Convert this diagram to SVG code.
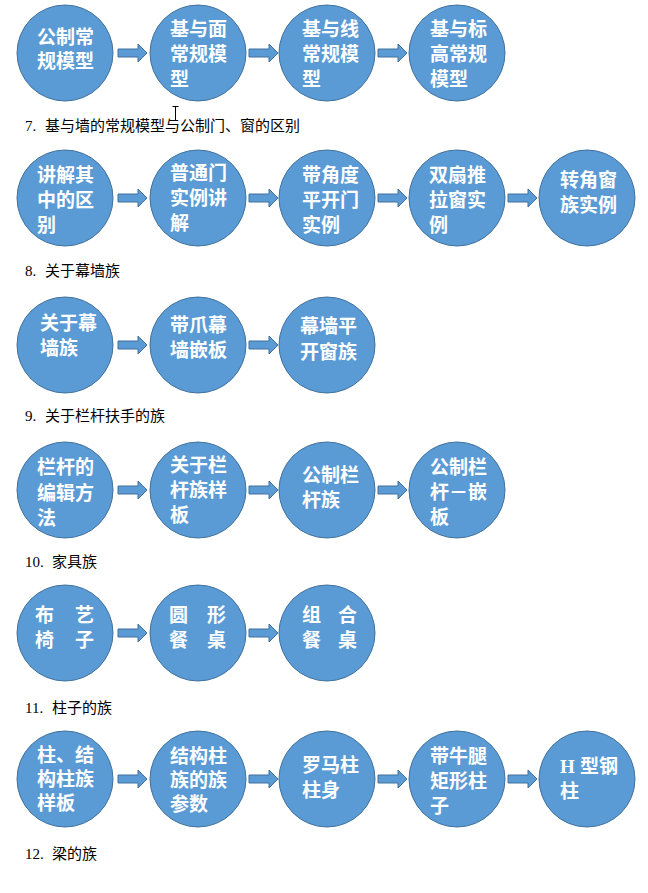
<svg xmlns="http://www.w3.org/2000/svg" width="648" height="893" viewBox="0 0 648 893">
<style>
.n{fill:#5b9bd5;stroke:#41719c;stroke-width:1}
.a{fill:#5b9bd5;stroke:#41719c;stroke-width:1}
.t{fill:#fff;font-family:"Noto Sans CJK SC","Liberation Sans",sans-serif;font-size:19px;font-weight:bold}
.l{fill:#000;font-family:"Liberation Serif","Noto Sans CJK SC",serif;font-size:15px}
.c{font-family:"Noto Sans CJK SC",sans-serif}
</style>
<defs>
<path id="arr" d="M0,-4 H20 V-9 L29,0 L20,9 V4 H0 Z"/>
</defs>
<rect width="648" height="893" fill="#fff"/>

<g id="connectors">
<use href="#arr" class="a" x="118" y="53"/><use href="#arr" class="a" x="249" y="53"/><use href="#arr" class="a" x="378" y="53"/>
<use href="#arr" class="a" x="118" y="198"/><use href="#arr" class="a" x="249" y="198"/><use href="#arr" class="a" x="378" y="198"/><use href="#arr" class="a" x="508" y="198"/>
<use href="#arr" class="a" x="118" y="345"/><use href="#arr" class="a" x="249" y="345"/>
<use href="#arr" class="a" x="118" y="490"/><use href="#arr" class="a" x="249" y="490"/><use href="#arr" class="a" x="378" y="490"/>
<use href="#arr" class="a" x="118" y="633"/><use href="#arr" class="a" x="249" y="633"/>
<use href="#arr" class="a" x="118" y="779"/><use href="#arr" class="a" x="249" y="779"/><use href="#arr" class="a" x="378" y="779"/><use href="#arr" class="a" x="508" y="779"/>
</g>

<!-- Row 1 -->
<g id="r1n1"><circle class="n" cx="65" cy="53" r="48"/><text class="t"><tspan x="37" y="44">公制常</tspan><tspan x="37" y="68">规模型</tspan></text></g>
<g id="r1n2"><circle class="n" cx="198" cy="53" r="48"/><text class="t"><tspan x="170" y="36">基与面</tspan><tspan x="170" y="61">常规模</tspan><tspan x="170" y="86">型</tspan></text></g>
<g id="r1n3"><circle class="n" cx="327" cy="53" r="48"/><text class="t"><tspan x="302" y="36">基与线</tspan><tspan x="302" y="61">常规模</tspan><tspan x="302" y="86">型</tspan></text></g>
<g id="r1n4"><circle class="n" cx="457" cy="53" r="48"/><text class="t"><tspan x="430" y="36">基与标</tspan><tspan x="430" y="61">高常规</tspan><tspan x="430" y="86">模型</tspan></text></g>
<text class="l" x="25" y="131">7.<tspan class="c" x="45">基与墙的常规模型与公制门、窗的区别</tspan></text>
<g id="cursor" stroke="#000" stroke-width="1" fill="none"><path d="M172.5,106.5 H178.5 M175.5,106.5 V121"/></g>

<!-- Row 2 -->
<g id="r2n1"><circle class="n" cx="65" cy="198" r="48"/><text class="t"><tspan x="37" y="182">讲解其</tspan><tspan x="37" y="207">中的区</tspan><tspan x="37" y="232">别</tspan></text></g>
<g id="r2n2"><circle class="n" cx="198" cy="198" r="48"/><text class="t"><tspan x="170" y="180">普通门</tspan><tspan x="170" y="205">实例讲</tspan><tspan x="170" y="230">解</tspan></text></g>
<g id="r2n3"><circle class="n" cx="327" cy="198" r="48"/><text class="t"><tspan x="302" y="182">带角度</tspan><tspan x="302" y="207">平开门</tspan><tspan x="302" y="232">实例</tspan></text></g>
<g id="r2n4"><circle class="n" cx="457" cy="198" r="48"/><text class="t"><tspan x="429" y="182">双扇推</tspan><tspan x="429" y="207">拉窗实</tspan><tspan x="429" y="232">例</tspan></text></g>
<g id="r2n5"><circle class="n" cx="587" cy="198" r="48"/><text class="t"><tspan x="560" y="187">转角窗</tspan><tspan x="560" y="212">族实例</tspan></text></g>
<text class="l" x="25" y="276">8.<tspan class="c" x="45">关于幕墙族</tspan></text>

<!-- Row 3 -->
<g id="r3n1"><circle class="n" cx="65" cy="345" r="48"/><text class="t"><tspan x="40" y="330">关于幕</tspan><tspan x="40" y="355">墙族</tspan></text></g>
<g id="r3n2"><circle class="n" cx="198" cy="345" r="48"/><text class="t"><tspan x="170" y="332">带爪幕</tspan><tspan x="170" y="357">墙嵌板</tspan></text></g>
<g id="r3n3"><circle class="n" cx="327" cy="345" r="48"/><text class="t"><tspan x="300" y="333">幕墙平</tspan><tspan x="300" y="359">开窗族</tspan></text></g>
<text class="l" x="25" y="421">9.<tspan class="c" x="45">关于栏杆扶手的族</tspan></text>

<!-- Row 4 -->
<g id="r4n1"><circle class="n" cx="65" cy="490" r="48"/><text class="t"><tspan x="37" y="474">栏杆的</tspan><tspan x="37" y="500">编辑方</tspan><tspan x="37" y="525">法</tspan></text></g>
<g id="r4n2"><circle class="n" cx="198" cy="490" r="48"/><text class="t"><tspan x="170" y="472">关于栏</tspan><tspan x="170" y="497">杆族样</tspan><tspan x="170" y="522">板</tspan></text></g>
<g id="r4n3"><circle class="n" cx="327" cy="490" r="48"/><text class="t"><tspan x="302" y="482">公制栏</tspan><tspan x="302" y="507">杆族</tspan></text></g>
<g id="r4n4"><circle class="n" cx="457" cy="490" r="48"/><text class="t"><tspan x="430" y="474">公制栏</tspan><tspan x="430" y="499">杆－嵌</tspan><tspan x="430" y="524">板</tspan></text></g>
<text class="l" x="25" y="567">10.<tspan class="c" x="52">家具族</tspan></text>

<!-- Row 5 -->
<g id="r5n1"><circle class="n" cx="65" cy="633" r="48"/><text class="t"><tspan x="35" y="622">布</tspan><tspan x="75" y="622">艺</tspan><tspan x="35" y="647">椅</tspan><tspan x="75" y="647">子</tspan></text></g>
<g id="r5n2"><circle class="n" cx="198" cy="633" r="48"/><text class="t"><tspan x="169" y="622">圆</tspan><tspan x="207" y="622">形</tspan><tspan x="169" y="647">餐</tspan><tspan x="207" y="647">桌</tspan></text></g>
<g id="r5n3"><circle class="n" cx="327" cy="633" r="48"/><text class="t"><tspan x="302" y="622">组</tspan><tspan x="338" y="622">合</tspan><tspan x="302" y="647">餐</tspan><tspan x="338" y="647">桌</tspan></text></g>
<text class="l" x="25" y="713">11.<tspan class="c" x="52">柱子的族</tspan></text>

<!-- Row 6 -->
<g id="r6n1"><circle class="n" cx="65" cy="779" r="48"/><text class="t"><tspan x="37" y="762">柱、结</tspan><tspan x="37" y="786">构柱族</tspan><tspan x="37" y="810">样板</tspan></text></g>
<g id="r6n2"><circle class="n" cx="198" cy="779" r="48"/><text class="t"><tspan x="170" y="763">结构柱</tspan><tspan x="170" y="787">族的族</tspan><tspan x="170" y="811">参数</tspan></text></g>
<g id="r6n3"><circle class="n" cx="327" cy="779" r="48"/><text class="t"><tspan x="302" y="772">罗马柱</tspan><tspan x="302" y="797">柱身</tspan></text></g>
<g id="r6n4"><circle class="n" cx="457" cy="779" r="48"/><text class="t"><tspan x="430" y="763">带牛腿</tspan><tspan x="430" y="788">矩形柱</tspan><tspan x="430" y="813">子</tspan></text></g>
<g id="r6n5"><circle class="n" cx="587" cy="779" r="48"/><text class="t"><tspan x="560" y="773" font-family="Liberation Serif, serif">H</tspan><tspan x="580" y="773">型钢</tspan><tspan x="560" y="798">柱</tspan></text></g>
<text class="l" x="25" y="859">12.<tspan class="c" x="52">梁的族</tspan></text>
</svg>
